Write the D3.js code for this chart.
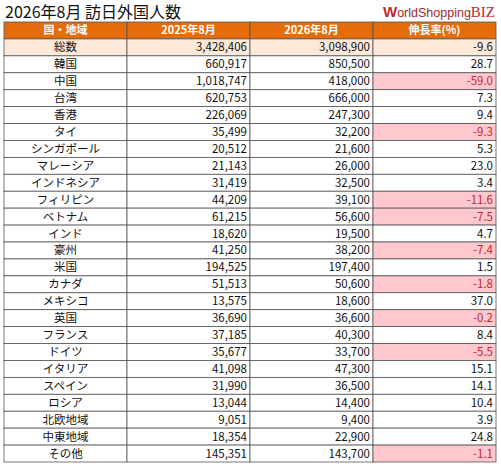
<!DOCTYPE html><html><head><meta charset="utf-8">
<script src="https://cdn.jsdelivr.net/npm/d3@7"></script>
<style>body{margin:0;background:#fff}</style></head><body>
<svg id="c" width="501" height="468"></svg>
<script>
const countries=["総数","韓国","中国","台湾","香港","タイ","シンガポール","マレーシア","インドネシア","フィリピン","ベトナム","インド","豪州","米国","カナダ","メキシコ","英国","フランス","ドイツ","イタリア","スペイン","ロシア","北欧地域","中東地域","その他"];
const v2025=[3428406,660917,1018747,620753,226069,35499,20512,21143,31419,44209,61215,18620,41250,194525,51513,13575,36690,37185,35677,41098,31990,13044,9051,18354,145351];
const v2026=[3098900,850500,418000,666000,247300,32200,21600,26000,32500,39100,56600,19500,38200,197400,50600,18600,36600,40300,33700,47300,36500,14400,9400,22900,143700];
const growth=[-9.6,28.7,-59.0,7.3,9.4,-9.3,5.3,23.0,3.4,-11.6,-7.5,4.7,-7.4,1.5,-1.8,37.0,-0.2,8.4,-5.5,15.1,14.1,10.4,3.9,24.8,-1.1];
const headers=["国・地域","2025年8月","2026年8月","伸長率(%)"];
const svg=d3.select("#c");
const font="'Noto Sans CJK JP',sans-serif";
svg.append("text").attr("x",5).attr("y",18).attr("font-family",font).attr("font-size",16).attr("fill","#111").text("2026年8月 訪日外国人数");
const lg=svg.append("text").attr("x",383).attr("y",17).attr("font-family","'Liberation Sans',sans-serif").attr("font-size",13);
lg.append("tspan").attr("fill","#c0272d").attr("font-weight","bold").attr("font-size",15).text("W");
lg.append("tspan").attr("fill","#a0282d").attr("font-size",12.5).text("orldShopping");
lg.append("tspan").attr("fill","#c0272d").attr("font-family","'Liberation Serif',serif").attr("font-size",15).text("BIZ");
const x=d3.scaleOrdinal().domain([0,1,2,3,4]).range([4,127,250,373,496]);
const y=d3.scaleBand().domain(d3.range(26)).range([22,462]);
const g=svg.append("g");
const h=y.bandwidth();
headers.forEach((t,i)=>{
 g.append("rect").attr("x",x(i)).attr("y",y(0)).attr("width",x(i+1)-x(i)).attr("height",h).attr("fill","#e46c0a").attr("stroke","#555").attr("stroke-width",0.8);
 g.append("text").attr("x",(x(i)+x(i+1))/2).attr("y",y(0)+h/2+4).attr("text-anchor","middle").attr("font-family",font).attr("font-weight","bold").attr("font-size",11).attr("fill","#fff").text(t);
});
countries.forEach((c,r)=>{
 const yy=y(r+1);
 const cells=[c,d3.format(",")(v2025[r]),d3.format(",")(v2026[r]),growth[r].toFixed(1)];
 cells.forEach((t,i)=>{
  let fill=r===0?"#fde9d9":"#fff";
  let col="#111";
  if(i===3&&r>0&&growth[r]<0){fill="#ffc7ce";col="#c0272d";}
  g.append("rect").attr("x",x(i)).attr("y",yy).attr("width",x(i+1)-x(i)).attr("height",h).attr("fill",fill).attr("stroke","#555").attr("stroke-width",0.8);
  g.append("text").attr("x",i===0?(x(0)+x(1))/2:x(i+1)-3).attr("y",yy+h/2+4).attr("text-anchor",i===0?"middle":"end").attr("font-family",font).attr("font-size",11.5).attr("fill",col).text(t);
 });
});
</script></body></html>
